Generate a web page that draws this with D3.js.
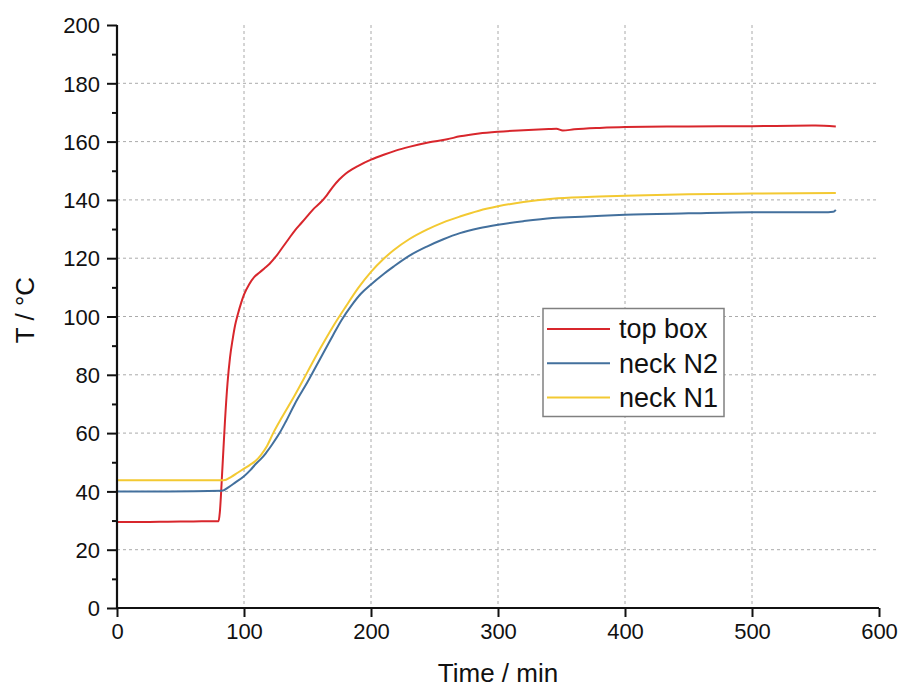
<!DOCTYPE html>
<html>
<head>
<meta charset="utf-8">
<script src="https://cdn.jsdelivr.net/npm/d3@7"></script>
<style>
  html, body { margin: 0; padding: 0; background: #fff; }
  svg { display: block; font-family: "Liberation Sans", Arial, sans-serif; }
</style>
</head>
<body>
<svg id="chart" width="901" height="688"></svg>
<script>
// Temperature logs: [time in min, temperature in °C]
const topBox = [
  [0,29.5],[20,29.5],[40,29.6],[60,29.7],[80,29.8],[81,33],[83,48],[85,64],[87,77],
  [89,86],[91,92],[93,97],[95,100.5],[98,105],[100,107.5],[104,111],[108,113.5],
  [112,115],[116,116.5],[120,118],[125,120.5],[130,123.5],[135,126.5],[140,129.5],
  [145,132],[150,134.5],[155,137],[160,139],[165,141.5],[170,144.5],[175,147],
  [180,149],[185,150.5],[190,151.7],[200,153.8],[210,155.5],[220,157],[230,158.2],
  [245,159.7],[260,160.8],[270,161.8],[285,162.8],[300,163.4],[320,163.9],[340,164.3],
  [346,164.4],[351,163.8],[360,164.2],[380,164.7],[400,165],[450,165.2],[500,165.3],
  [550,165.5],[566,165.2]
];
const neckN2 = [
  [0,40],[40,40],[82.6,40.2],[88,41.5],[93,43],[100,45.2],[105,47.3],[109,49.3],
  [113,51],[117,53],[122,56],[128,60],[133,64],[140,70],[150,77.5],[160,85.5],
  [170,93.5],[177,98.9],[185,104],[192,107.8],[200,111],[210,114.6],[218,117.2],
  [230,120.8],[244,124],[257,126.5],[270,128.6],[285,130.3],[300,131.5],[320,132.7],
  [343,133.8],[370,134.3],[400,134.9],[450,135.4],[500,135.8],[560,135.8],[564,135.9],
  [566,136.6]
];
const neckN1 = [
  [0,43.8],[40,43.8],[84,43.8],[90,45],[95,46.4],[100,47.8],[105,49.2],[109,50.4],
  [113,52.3],[118,55.5],[123,60],[130,65.5],[140,73],[150,81],[160,89],[170,96.5],
  [180,103.3],[190,109.8],[200,115.3],[210,119.8],[218,122.8],[230,126.5],[244,129.8],
  [257,132.3],[270,134.3],[285,136.3],[300,137.8],[320,139.3],[343,140.4],[370,141],
  [400,141.4],[450,141.9],[500,142.2],[566,142.4]
];
const seriesNames = ["top box", "neck N2", "neck N1"];
const seriesColors = ["#d8262c", "#43709d", "#f3c932"];
const xTicks = [0, 100, 200, 300, 400, 500, 600];
const yTicks = [0, 20, 40, 60, 80, 100, 120, 140, 160, 180, 200];
const yMinorTicks = [10, 30, 50, 70, 90, 110, 130, 150, 170, 190];

const svg = d3.select("#chart");
const plotLeft = 117, plotRight = 879, plotTop = 25, plotBottom = 608;

const x = d3.scaleLinear().domain([0, 600]).range([plotLeft, plotRight]);
const y = d3.scaleLinear().domain([0, 200]).range([plotBottom, plotTop]);

// dashed grid
const grid = svg.append("g").attr("stroke", "#aaaaaa").attr("stroke-width", 1)
  .attr("stroke-dasharray", "3,3");
grid.selectAll("line.gx").data(xTicks.filter(d => d > 0 && d < 600)).enter()
  .append("line").attr("x1", d => x(d)).attr("x2", d => x(d))
  .attr("y1", y(200)).attr("y2", y(0));
grid.selectAll("line.gy").data(yTicks.filter(d => d > 0 && d < 200)).enter()
  .append("line").attr("y1", d => y(d)).attr("y2", d => y(d))
  .attr("x1", x(0)).attr("x2", x(600));

// series lines
const line = d3.line().x(d => x(d[0])).y(d => y(d[1])).curve(d3.curveMonotoneX);
[topBox, neckN2, neckN1].forEach((data, i) => {
  svg.append("path").datum(data).attr("d", line)
    .attr("fill", "none").attr("stroke", seriesColors[i]).attr("stroke-width", 2)
    .attr("stroke-linejoin", "round");
});

// axes
const xAxis = svg.append("g").attr("transform", `translate(0,${plotBottom})`)
  .call(d3.axisBottom(x).tickValues(xTicks).tickSize(9).tickPadding(6));
const yAxis = svg.append("g").attr("transform", `translate(${plotLeft},0)`)
  .call(d3.axisLeft(y).tickValues(yTicks).tickSize(10).tickPadding(7));
svg.append("g").attr("transform", `translate(${plotLeft},0)`)
  .call(d3.axisLeft(y).tickValues(yMinorTicks).tickSize(5).tickFormat(""))
  .call(g => g.select(".domain").remove())
  .selectAll("line").attr("stroke", "#111").attr("stroke-width", 2);

[xAxis, yAxis].forEach(g => {
  g.select(".domain").attr("stroke", "#111").attr("stroke-width", 2.2);
  g.selectAll(".tick line").attr("stroke", "#111").attr("stroke-width", 2);
  g.selectAll(".tick text").attr("fill", "#111").style("font-size", "22px")
    .style("font-family", "'Liberation Sans', Arial, sans-serif");
});
yAxis.select(".domain").attr("d", `M0,${plotBottom}V${plotTop}`);
xAxis.select(".domain").attr("d", `M${plotLeft},0H${plotRight}`);
yAxis.selectAll(".tick text").attr("dy", "0.35em");

// axis titles
svg.append("text").attr("x", (plotLeft + plotRight) / 2).attr("y", 682)
  .attr("text-anchor", "middle").attr("fill", "#111").style("font-size", "26px")
  .text("Time / min");
svg.append("text").attr("transform", "translate(34,310) rotate(-90)")
  .attr("text-anchor", "middle").attr("fill", "#111").style("font-size", "26px")
  .text("T / °C");

// legend
const lg = svg.append("g");
lg.append("rect").attr("x", 543).attr("y", 308.5).attr("width", 181).attr("height", 108)
  .attr("fill", "#fff").attr("stroke", "#808080").attr("stroke-width", 1.5);
seriesNames.forEach((name, i) => {
  const cy = 329 + i * 34.3;
  lg.append("line").attr("x1", 547).attr("x2", 610).attr("y1", cy).attr("y2", cy)
    .attr("stroke", seriesColors[i]).attr("stroke-width", 2);
  lg.append("text").attr("x", 619).attr("y", cy).attr("dy", "0.35em")
    .attr("fill", "#111").style("font-size", "27px").text(name);
});
</script>
</body>
</html>
